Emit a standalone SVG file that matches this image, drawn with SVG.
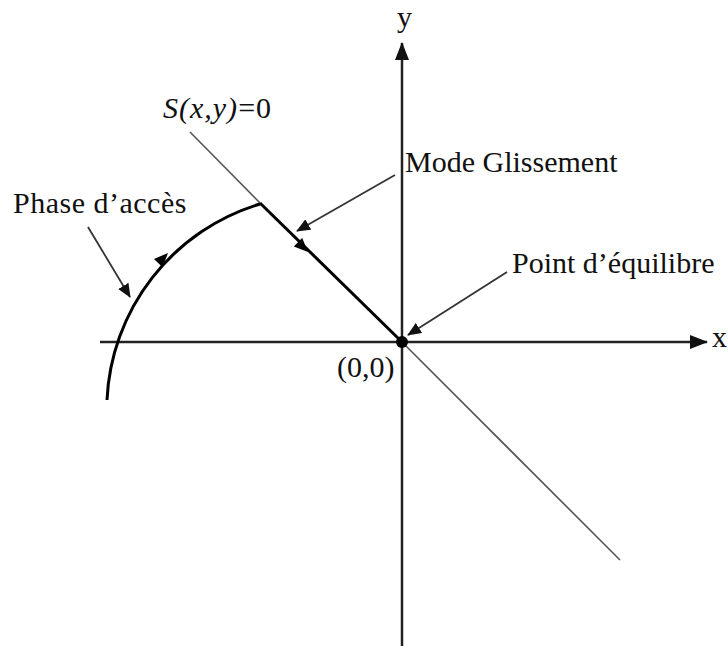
<svg xmlns="http://www.w3.org/2000/svg" width="728" height="646" viewBox="0 0 728 646">
<style>
.t{font-family:"Liberation Serif","Times New Roman",serif;font-size:30px;fill:#111}
.axis{stroke:#222;stroke-width:2.5;fill:none}
.thin{stroke:#555;stroke-width:1.6;fill:none}
.thick{stroke:#000;stroke-width:3;fill:none}
.ann{stroke:#333;stroke-width:1.8;fill:none}
</style>
<defs>
<marker id="ah" viewBox="0 0 14 12" refX="13" refY="6" markerWidth="14" markerHeight="12" markerUnits="userSpaceOnUse" orient="auto">
<path d="M0,0 L14,6 L0,12 Z" fill="#111"/>
</marker>
<marker id="axh" viewBox="0 0 18 14" refX="17" refY="7" markerWidth="18" markerHeight="14" markerUnits="userSpaceOnUse" orient="auto">
<path d="M0,0 L18,7 L0,14 Z" fill="#111"/>
</marker>
<path id="tri" d="M0,0 L-14,-6 L-14,6 Z" fill="#000"/>
</defs>
<g id="axes">
<line class="axis" x1="402" y1="646" x2="402" y2="43" marker-end="url(#axh)"/>
<line class="axis" x1="100" y1="342" x2="707" y2="342" marker-end="url(#axh)"/>
</g>
<g id="surface">
<line class="thin" x1="190" y1="132" x2="260" y2="203"/>
<line class="thin" x1="402" y1="342" x2="620" y2="560"/>
</g>
<g id="trajectory">
<path class="thick" d="M107,400 A215,215 0 0 1 260,204"/>
<line class="thick" x1="260" y1="203" x2="402" y2="342"/>
<use href="#tri" transform="translate(168,253) rotate(-46)"/>
<use href="#tri" transform="translate(308,252) rotate(44.4)"/>
<circle cx="402" cy="342" r="6" fill="#000"/>
</g>
<g id="connectors">
<line class="ann" x1="88" y1="227" x2="130" y2="297" marker-end="url(#ah)"/>
<line class="ann" x1="395" y1="175" x2="297" y2="231" marker-end="url(#ah)"/>
<line class="ann" x1="507" y1="272" x2="408" y2="335" marker-end="url(#ah)"/>
</g>
<g id="labels">
<text class="t" x="397" y="27">y</text>
<text class="t" x="712" y="347">x</text>
<text class="t" x="163" y="118" letter-spacing="1"><tspan font-style="italic">S(x,y)</tspan>=0</text>
<text class="t" x="13" y="213" letter-spacing="0.5">Phase d’accès</text>
<text class="t" x="405" y="172">Mode Glissement</text>
<text class="t" x="512" y="273">Point d’équilibre</text>
<text class="t" x="337" y="377" fill="#333">(0,0)</text>
</g>
</svg>
